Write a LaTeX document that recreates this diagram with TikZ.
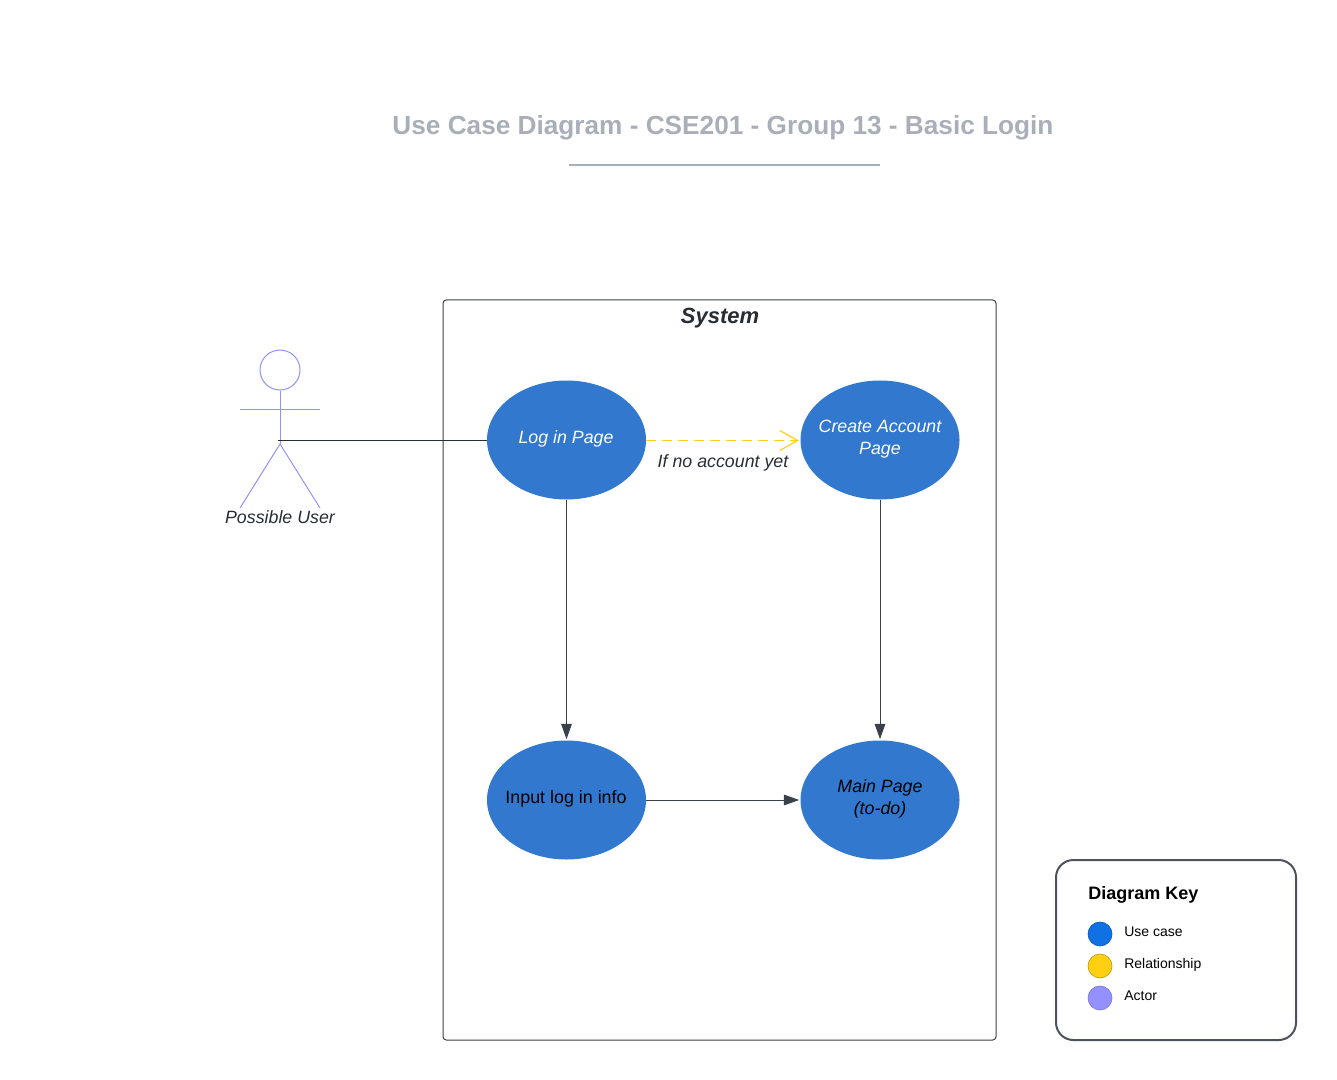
\documentclass[tikz,border=0pt]{standalone}
\usepackage{fontspec}
\setmainfont{Liberation Sans}
\usetikzlibrary{shapes.geometric,arrows.meta}
\definecolor{uc}{HTML}{3178CE}
\definecolor{ink}{HTML}{3A414A}
\definecolor{keyline}{HTML}{4C535F}
\definecolor{txt}{HTML}{282C33}
\definecolor{actorc}{HTML}{9391FF}
\definecolor{rel}{HTML}{FFD012}
\definecolor{keyblue}{HTML}{1071E5}
\definecolor{titlec}{HTML}{A9AFB9}
\tikzset{
  px/.style={x=0.75pt,y=-0.75pt},
  usecase/.style={ellipse,fill=uc,minimum width=119.25pt,minimum height=89.25pt,inner sep=0pt},
  uctext/.style={inner sep=0pt,align=center,font=\fontsize{13.4}{16.5}\selectfont},
  txtlabel/.style={inner sep=0pt,text=txt,font=\fontsize{13.35}{16.5}\selectfont\itshape},
  flow/.style={ink,line width=0.75pt,shorten >=0.8pt,-{Triangle[length=11.5pt,width=8pt]}},
  limb/.style={actorc,line width=0.75pt},
  keydot/.style={circle,minimum size=18pt,inner sep=0pt,line width=0.5pt},
  keytext/.style={inner sep=0pt,anchor=base west,font=\fontsize{10.5}{12}\selectfont},
}
\begin{document}
\begin{tikzpicture}[px]
\useasboundingbox (0,0) rectangle (1337,1080);
\node[inner sep=0pt,text=titlec,font=\fontsize{19.65}{24}\selectfont\bfseries] (title) at (723,128) {Use Case Diagram - CSE201 - Group 13 - Basic Login};
\coordinate (ruleL) at (569,165);
\coordinate (ruleR) at (880,165);
\draw[titlec,line width=1.2pt] (ruleL) -- (ruleR);

\draw[ink,line width=0.75pt,rounded corners=2.5pt] (443,300) rectangle (996,1040);
\node[inner sep=0pt,text=txt,font=\fontsize{16.5}{20}\selectfont\bfseries\itshape] (system) at (720,318) {System};

% actor
\node[circle,draw=actorc,line width=0.75pt,minimum size=30pt,inner sep=0pt] (head) at (280,370) {};
\coordinate (hip) at (280,444);
\coordinate (armL) at (240,409);
\coordinate (armR) at (320,409);
\coordinate (footL) at (240,508);
\coordinate (footR) at (320,508);
\coordinate (grip) at (278,440.5);
\draw[limb] (head.south) -- (hip);
\draw[limb] (armL) -- (armR);
\draw[limb] (footL) -- (hip) -- (footR);
\node[txtlabel] (user) at (280,517) {Possible User};

% use cases
\node[usecase] (login) at (566.5,440) {};
\node[usecase] (create) at (880,440) {};
\node[usecase] (input) at (566.5,800) {};
\node[usecase] (main) at (880,800) {};
\node[uctext,text=white,font=\fontsize{13.35}{16.2}\selectfont\itshape] (loginT) at (566,439) {Log in Page};
\node[uctext,text=white,font=\fontsize{13.35}{16.2}\selectfont\itshape] (createT) at (880,439) {Create Account\\Page};
\node[uctext,text=black] (inputT) at (566,799) {Input log in info};
\node[uctext,text=black,font=\fontsize{13.35}{16.2}\selectfont\itshape] (mainT) at (880,799) {Main Page\\(to-do)};

% connectors
\draw[txt,line width=0.75pt] (grip) -- (login.west |- grip);
\draw[rel,line width=0.9pt,dash pattern=on 7.5pt off 4.5pt,shorten >=1pt,-{Straight Barb[length=13.5pt,width=15pt,line width=0.9pt]}] (login.east |- 0,440.5) -- (create.west |- 0,440.5);
\node[txtlabel] (note) at (723,463) {If no account yet};
\draw[flow] (login.south) -- (input.north);
\draw[flow] (create.south) -- (main.north);
\draw[flow] (input.east) -- (main.west);

% key
\draw[draw=keyline,line width=1.5pt,rounded corners=13pt] (1056,860) rectangle (1296,1040);
\node[inner sep=0pt,anchor=west,font=\fontsize{13.5}{16}\selectfont\bfseries] (keytitle) at (1088,895) {Diagram Key};
\node[keydot,fill=keyblue,draw=keyblue!80!black] (k1) at (1100,934) {};
\node[keydot,fill=rel,draw=rel!75!black] (k2) at (1100,966) {};
\node[keydot,fill=actorc,draw=actorc!85!black] (k3) at (1100,998) {};
\node[keytext] (t1) at (1124,936) {Use case};
\node[keytext] (t2) at (1124,968) {Relationship};
\node[keytext] (t3) at (1124,1000) {Actor};
\end{tikzpicture}
\end{document}
